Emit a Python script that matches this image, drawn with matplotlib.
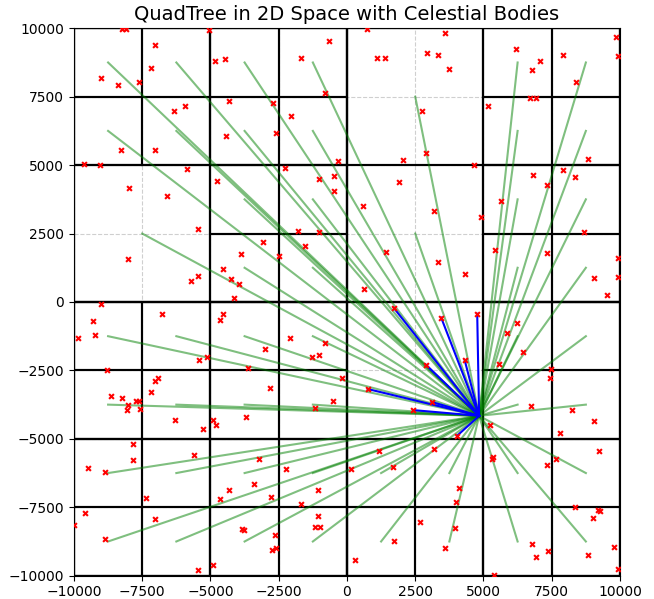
import matplotlib
matplotlib.use("Agg")
import matplotlib.pyplot as plt
import numpy as np

# domain of the simulation
space_min, space_max = -10000, 10000

# lower-left corners of the 5000-wide cells that got subdivided again
split_cells = [(-10000, 5000), (-5000, 5000), (5000, 5000),
               (-5000, 0), (5000, 0),
               (-10000, -5000), (-5000, -5000), (5000, -5000),
               (-10000, -10000), (-5000, -10000), (0, -10000), (5000, -10000)]

# body for which the force is evaluated
source_x, source_y = 4840, -4160

# celestial bodies
body_x = [
    -8250, -8100, -5060, -7050, -7170, -4830, -4480, -9020, -8390, -7630,
    -6320, -5930, -4330, -4430, -8280, -7050, -9650, -9040, -5860, -4770,
    -7970, -6610,
    -660, -1680, 720, 1110, 1380, 2940, 3320, -790, -2700, -2050,
    -2600, 2750, 2900, -340, 2060, -2270, -1010, -490, -480, 1900,
    580, 3170,
    3590, 3720, 6200, 7060, 6770, 7910, 9870, 9910, 8380, 5160,
    6720, 6920, 4670, 6800, 7330, 7910, 8370, 8810, 5640,
    -5460, -8020, -5710, -5440, -3890, -4530, -4260, -3960, -4130, -9000,
    -6780, -9290, -9220, -9860, -4530, -4640, -5420, -5110, -8780, -3610,
    -7050, -6910, -7170,
    -1790, -1010, -3090, -1540, -2490, 1430, 3320, 610, 1710, 3450,
    -2080, -2990, -820, -1290, -1040, -190, -2830, 760, 2890,
    4900, 5420, 7330, 4330, 8670, 9940, 9040, 9940, 9530, 4770,
    6220, 5870, 6430, 4310, 5550, 7470, 7450,
    -8660, -8250, -8030, -8050, -7720, -7630, -7570, -6310, -4890, -5270,
    -4800, -3710, -7830, -7820, -9490, -8850, -5610, -3400, -4310, -4640,
    -7360, -3230, -9580, -9990, -8850, -7020, -3830, -3760, -4920, -5440,
    3100, -520, -1170, 2430, -2220, -2780, -1050, -1670, 1180, 150,
    1700, 3170, -1050, -1180, -990, -2640, -2750, -2600, 280, 1720,
    2660,
    6730, 8240, 9050, 7820, 5250, 4030, 5340, 5320, 7650, 7320,
    9220, 4100, 4010, 8360, 9200, 9270, 9020, 3940, 3600, 6770,
    6930, 7370, 8820, 9770, 9910, 5390,
]
body_y = [
    9970, 9970, 9940, 9380, 8550, 8820, 8870, 8170, 7940, 8030,
    6990, 7170, 7360, 6080, 5560, 5550, 5040, 5000, 4860, 4430,
    4150, 3870,
    9550, 8920, 9990, 8910, 8920, 9080, 9040, 7620, 7270, 6810,
    6160, 6970, 5430, 5140, 5190, 4880, 4480, 4600, 4070, 4370,
    3510, 3330,
    9830, 8530, 9260, 8800, 8480, 9020, 9670, 9000, 8050, 7150,
    7440, 7440, 5000, 4640, 4270, 4820, 4550, 5210, 3700,
    2650, 1570, 760, 960, 1750, 1220, 850, 650, 160, -70,
    -430, -710, -1210, -1330, -430, -660, -2130, -2020, -2480, -2430,
    -2870, -2780, -3290,
    2610, 2570, 2200, 2050, 1670, 1840, 1450, 480, -210, -570,
    -1320, -1700, -1510, -2010, -1950, -2790, -3140, -3180, -2290,
    3090, 1890, 1780, 1030, 2550, 1600, 890, 900, 260, -430,
    -770, -1120, -1820, -2120, -2270, -2440, -2780,
    -3450, -3490, -3780, -3950, -3620, -3620, -3920, -4320, -4320, -4640,
    -4510, -4190, -5200, -5790, -6080, -6210, -5580, -6640, -6870, -7190,
    -7150, -5740, -7710, -8140, -8650, -7940, -8280, -8330, -9600, -9810,
    -3650, -3610, -3880, -3950, -6100, -7140, -6860, -7390, -5450, -6090,
    -6040, -5370, -7810, -8210, -8220, -8500, -9070, -9000, -9440, -8740,
    -8040,
    -3810, -3940, -4360, -4770, -4480, -4890, -5670, -5750, -5720, -5970,
    -5440, -6780, -7310, -7490, -7610, -7640, -7890, -8240, -8980, -8860,
    -9310, -9110, -9250, -8960, -9760, -9960,
]


def build_tree():
    # returns every node box (x0, y0, size) and the leaf boxes
    nodes, leaves = [], []
    root = space_max - space_min
    nodes.append((space_min, space_min, root))
    half = root / 2
    quarter = root / 4
    for qx in (space_min, space_min + half):
        for qy in (space_min, space_min + half):
            nodes.append((qx, qy, half))
            for cx in (qx, qx + quarter):
                for cy in (qy, qy + quarter):
                    nodes.append((cx, cy, quarter))
                    if (cx, cy) in split_cells:
                        s = quarter / 2
                        for sx in (cx, cx + s):
                            for sy in (cy, cy + s):
                                nodes.append((sx, sy, s))
                                leaves.append((sx, sy, s))
                    else:
                        leaves.append((cx, cy, quarter))
    return nodes, leaves


def contains(box, x, y):
    x0, y0, s = box
    return x0 <= x < x0 + s and y0 <= y < y0 + s


nodes, leaves = build_tree()

fig = plt.figure(figsize=(6.54, 5.99), dpi=100)
ax = fig.add_axes([0.1131, 0.0389, 0.8349, 0.9139])

for x0, y0, s in nodes:
    ax.plot([x0, x0 + s, x0 + s, x0, x0], [y0, y0, y0 + s, y0 + s, y0],
            color='black', linewidth=1.5)

own_leaf = [b for b in leaves if contains(b, source_x, source_y)][0]

# far cells: approximated through their centre
for b in leaves:
    if b == own_leaf:
        continue
    cx = b[0] + b[2] / 2
    cy = b[1] + b[2] / 2
    ax.plot([source_x, cx], [source_y, cy], color='green', alpha=0.5, linewidth=1.5)

# bodies in the same cell: direct interaction
for x, y in zip(body_x, body_y):
    if contains(own_leaf, x, y):
        ax.plot([source_x, x], [source_y, y], color='blue', linewidth=1.5)

ax.scatter(body_x, body_y, c='red', marker='x', s=12, linewidths=1.5, zorder=3)

ax.set_xlim(space_min, space_max)
ax.set_ylim(space_min, space_max)
ax.set_xticks(np.arange(space_min, space_max + 1, 2500))
ax.set_yticks(np.arange(space_min, space_max + 1, 2500))
ax.grid(True, linestyle='--', alpha=0.6)
ax.set_title('QuadTree in 2D Space with Celestial Bodies', fontsize=14)

fig.savefig('out.png', dpi=100)
